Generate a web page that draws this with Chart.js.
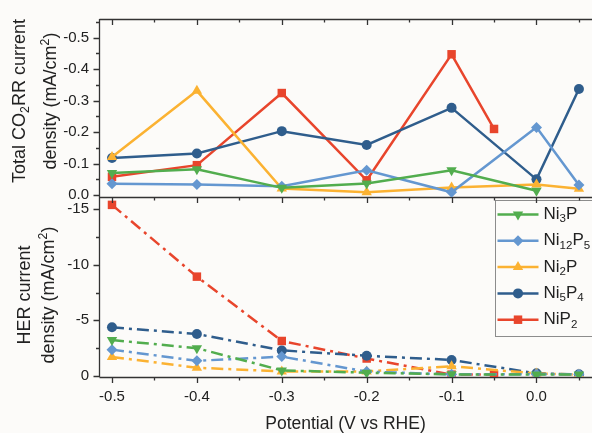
<!DOCTYPE html>
<html><head><meta charset="utf-8">
<script src="https://cdn.jsdelivr.net/npm/chart.js@4/dist/chart.umd.min.js"></script>
<style>
html,body{margin:0;padding:0;background:#fcfbf9;}
#wrap{position:relative;width:592px;height:433px;overflow:hidden;}
canvas{position:absolute;left:0;top:0;}
</style></head><body>
<div id="wrap"><canvas id="cBot" width="592" height="433"></canvas><canvas id="cTop" width="592" height="433"></canvas></div>
<script>
// ---- data ----
const seriesNames = ['Ni₃P','Ni₁₂P₅','Ni₂P','Ni₅P₄','NiP₂'];
const seriesColors = ['#52ad4e','#6497d0','#fbb232','#2f5d8c','#e8452c'];
const seriesMarkers = ['triangle','rectRot','triangle','circle','rect'];
const markerRotations = [180,0,0,0,0];
const markerRadii = [6,5.5,6,5,6];

const potentials = [-0.5,-0.4,-0.3,-0.2,-0.1,0.0,0.05];
const potentialsNiP2 = [-0.5,-0.4,-0.3,-0.2,-0.1,-0.05];

// Total CO2RR current density (mA/cm2)
const co2rrNi3P   = [-0.070,-0.082,-0.023,-0.037,-0.079,-0.014];
const co2rrNi12P5 = [-0.036,-0.034,-0.028,-0.079,-0.009,-0.215,-0.032];
const co2rrNi2P   = [-0.121,-0.331,-0.021,-0.009,-0.024,-0.034,-0.020];
const co2rrNi5P4  = [-0.118,-0.132,-0.203,-0.159,-0.277,-0.050,-0.337];
const co2rrNiP2   = [-0.058,-0.095,-0.324,-0.047,-0.447,-0.210];

// HER current density (mA/cm2)
const herNi3P   = [-3.22,-2.48,-0.48,-0.27,-0.12,-0.10,-0.10];
const herNi12P5 = [-2.35,-1.34,-1.72,-0.37,-0.12,-0.12,-0.12];
const herNi2P   = [-1.69,-0.72,-0.38,-0.38,-0.85,-0.20,-0.10];
const herNi5P4  = [-4.36,-3.76,-2.28,-1.80,-1.42,-0.21,-0.12];
const herNiP2   = [-15.4,-8.93,-3.13,-1.55,-0.10,-0.10];

// ticks and titles
const xTickValues = [-0.5,-0.45,-0.4,-0.35,-0.3,-0.25,-0.2,-0.15,-0.1,-0.05,0.0,0.05];
const xTickLabels = ['-0.5','','-0.4','','-0.3','','-0.2','','-0.1','','0.0',''];
const yTopTickValues = [0,-0.05,-0.1,-0.15,-0.2,-0.25,-0.3,-0.35,-0.4,-0.45,-0.5,-0.55];
const yTopTickLabels = ['0.0','','-0.1','','-0.2','','-0.3','','-0.4','','-0.5',''];
const yBotTickValues = [0,-2.5,-5,-7.5,-10,-12.5,-15];
const yBotTickLabels = ['0','','-5','','-10','','-15'];
const xTitle = 'Potential (V vs RHE)';
const yTopTitle = ['Total CO₂RR current','density (mA/cm²)'];
const yBotTitle = ['HER current','density (mA/cm²)'];

const FONT = "'Liberation Sans', Arial, sans-serif";
const AXIS = '#333333';
const TEXT = '#222222';

function pts(xs, ys){ return ys.map((v,i)=>({x:xs[i], y:v})); }

const co2rrSets = [co2rrNi3P, co2rrNi12P5, co2rrNi2P, co2rrNi5P4, co2rrNiP2];
const herSets = [herNi3P, herNi12P5, herNi2P, herNi5P4, herNiP2];
const xsFor = i => (i === 4 ? potentialsNiP2 : potentials);

function makeDatasets(sets, dashed){
  return sets.map((ys,i)=>({
    label: seriesNames[i],
    data: pts(xsFor(i), ys),
    borderColor: seriesColors[i],
    backgroundColor: seriesColors[i],
    borderWidth: 2.5,
    borderDash: dashed ? [12,5,3,5] : [],
    pointStyle: seriesMarkers[i],
    pointRotation: markerRotations[i],
    pointRadius: markerRadii[i],
    pointBorderWidth: 0,
    pointBackgroundColor: seriesColors[i],
    tension: 0,
    fill: false
  }));
}

function makeTicks(values){ return values.map(v=>({value:v})); }

// rich text: unicode sub/superscript digits are drawn as smaller shifted glyphs
const SUB = '₀₁₂₃₄₅₆₇₈₉', SUP = '⁰¹²³⁴⁵⁶⁷⁸⁹';
function parseRich(s){
  const segs = [];
  for (const ch of s){
    let kind = 'n', c = ch;
    const si = SUB.indexOf(ch), pi = SUP.indexOf(ch);
    if (si >= 0){ kind = 'sub'; c = String(si); }
    else if (pi >= 0){ kind = 'sup'; c = String(pi); }
    const last = segs[segs.length-1];
    if (last && last.kind === kind) last.text += c; else segs.push({kind, text:c});
  }
  return segs;
}
function richWidth(ctx, segs, size){
  let w = 0;
  segs.forEach(s=>{ ctx.font = (s.kind==='n'? size : size*0.68) + 'px ' + FONT; w += ctx.measureText(s.text).width; });
  return w;
}
function drawRich(ctx, str, x, y, size, align){
  const segs = parseRich(str);
  let cx = x;
  if (align === 'center') cx = x - richWidth(ctx, segs, size)/2;
  ctx.textAlign = 'left'; ctx.textBaseline = 'middle';
  segs.forEach(s=>{
    const fs = s.kind==='n'? size : size*0.68;
    const dy = s.kind==='sub' ? size*0.28 : (s.kind==='sup' ? -size*0.33 : 0);
    ctx.font = fs + 'px ' + FONT;
    ctx.fillText(s.text, cx, y+dy);
    cx += ctx.measureText(s.text).width;
  });
}

function framePlugin(opts){
  return {
    id:'frame'+opts.name,
    beforeDatasetsDraw(chart){
      const {ctx, chartArea:a, scales} = chart;
      const x = scales.x, y = scales.y;
      ctx.save();
      ctx.strokeStyle = AXIS; ctx.lineWidth = 1.3;
      const L = Math.round(a.left)+0.5;
      ctx.beginPath();
      if (opts.topLine){ ctx.moveTo(a.right+5, Math.round(a.top)+0.5); ctx.lineTo(L, Math.round(a.top)+0.5); }
      ctx.moveTo(L, a.top); ctx.lineTo(L, a.bottom);
      ctx.moveTo(L, Math.round(a.bottom)+0.5); ctx.lineTo(a.right+5, Math.round(a.bottom)+0.5);
      opts.xEdges.forEach(edge=>{
        const yy = edge === 'top' ? a.top : a.bottom;
        xTickValues.forEach((v,i)=>{
          const px = Math.round(x.getPixelForValue(v))+0.5;
          const len = xTickLabels[i] ? 6 : 3.5;
          ctx.moveTo(px, yy); ctx.lineTo(px, yy+len);
        });
      });
      opts.yVals.forEach((v,i)=>{
        const py = Math.round(y.getPixelForValue(v))+0.5;
        const len = opts.yLabs[i] ? 6 : 3.5;
        ctx.moveTo(L, py); ctx.lineTo(L-len, py);
      });
      ctx.stroke();
      ctx.restore();
    },
    afterDraw(chart){
      // two-line rotated y-axis title
      const {ctx, chartArea:a} = chart;
      const cy = (a.top + a.bottom)/2 + opts.titleShift;
      ctx.save();
      ctx.fillStyle = TEXT;
      opts.title.forEach((line, k)=>{
        ctx.save();
        ctx.translate(opts.titleX[k], cy);
        ctx.rotate(-Math.PI/2);
        drawRich(ctx, line, 0, 0, 18, 'center');
        ctx.restore();
      });
      ctx.restore();
    }
  };
}

function drawMarker(ctx, style, rot, r, cx, cy){
  ctx.beginPath();
  if (style === 'circle'){ ctx.arc(cx, cy, r, 0, Math.PI*2); }
  else if (style === 'rect'){ const h = r*Math.SQRT1_2; ctx.rect(cx-h, cy-h, 2*h, 2*h); }
  else if (style === 'rectRot'){ ctx.moveTo(cx, cy-r); ctx.lineTo(cx+r, cy); ctx.lineTo(cx, cy+r); ctx.lineTo(cx-r, cy); ctx.closePath(); }
  else if (style === 'triangle'){
    let ang = rot*Math.PI/180;
    for (let k=0;k<3;k++){ const px = cx + Math.sin(ang)*r, py = cy - Math.cos(ang)*r; if(k===0) ctx.moveTo(px,py); else ctx.lineTo(px,py); ang += 2*Math.PI/3; }
    ctx.closePath();
  }
  ctx.fill();
}

const legendPlugin = {
  id:'legendBox',
  afterDraw(chart){
    const {ctx, chartArea:a} = chart;
    const bx = Math.round(a.right - 97)+0.5, by = Math.round(a.top + 3)+0.5, bw = 130, bh = 136;
    ctx.save();
    ctx.fillStyle = '#fcfbf9'; ctx.fillRect(bx, by, bw, bh);
    ctx.strokeStyle = '#8c8c8c'; ctx.lineWidth = 1; ctx.strokeRect(bx, by, bw, bh);
    seriesNames.forEach((n,i)=>{
      const yy = by + 14 + i*26.3;
      ctx.strokeStyle = seriesColors[i]; ctx.lineWidth = 2.5;
      ctx.beginPath(); ctx.moveTo(bx+2, yy); ctx.lineTo(bx+43, yy); ctx.stroke();
      ctx.fillStyle = seriesColors[i];
      drawMarker(ctx, seriesMarkers[i], markerRotations[i], markerRadii[i], bx+22.5, yy);
      ctx.fillStyle = TEXT;
      drawRich(ctx, n, bx+48, yy, 17, 'left');
    });
    ctx.restore();
  }
};

const tickFont = {family: FONT, size: 15};

// ---- top chart: CO2RR ----
new Chart(document.getElementById('cTop'), {
  type:'line',
  data:{ datasets: makeDatasets(co2rrSets, false) },
  options:{
    responsive:false, animation:false, devicePixelRatio:1,
    layout:{ autoPadding:false, padding:{top:18, bottom:236, left:0, right:0} },
    plugins:{ legend:{display:false}, tooltip:{enabled:false} },
    scales:{
      x:{ type:'linear', display:false, min:-0.5153, max:0.0654 },
      y:{ type:'linear', reverse:true, min:-0.559, max:0.006,
          afterFit(s){ s.width = 99; },
          afterBuildTicks(s){ s.ticks = makeTicks(yTopTickValues); },
          grid:{display:false, drawTicks:false, tickLength:0},
          border:{display:false},
          ticks:{ font:tickFont, color:TEXT, padding:10, autoSkip:false,
                  callback:(v,i)=>yTopTickLabels[i] },
          title:{ display:false }
      }
    }
  },
  plugins:[framePlugin({name:'t', topLine:true, xEdges:['top','bottom'], yVals:yTopTickValues, yLabs:yTopTickLabels,
                        title:yTopTitle, titleX:[20.5, 51.5], titleShift:-7})]
});

// ---- bottom chart: HER ----
new Chart(document.getElementById('cBot'), {
  type:'line',
  data:{ datasets: makeDatasets(herSets, true) },
  options:{
    responsive:false, animation:false, devicePixelRatio:1,
    layout:{ autoPadding:false, padding:{top:197, bottom:0, left:0, right:0} },
    plugins:{ legend:{display:false}, tooltip:{enabled:false} },
    scales:{
      x:{ type:'linear', min:-0.5153, max:0.0654,
          afterFit(s){ s.height = 56; },
          afterBuildTicks(s){ s.ticks = makeTicks(xTickValues); },
          grid:{display:false, drawTicks:false, tickLength:0},
          border:{display:false},
          ticks:{ font:tickFont, color:TEXT, padding:11, autoSkip:false, maxRotation:0,
                  callback:(v,i)=>xTickLabels[i] },
          title:{ display:true, text:xTitle,
                  font:{family:FONT, size:17.5, lineHeight:1.0}, color:TEXT, padding:{top:0,bottom:0} }
      },
      y:{ type:'linear', reverse:true, min:-16.11, max:0.117,
          afterFit(s){ s.width = 99; },
          afterBuildTicks(s){ s.ticks = makeTicks(yBotTickValues); },
          grid:{display:false, drawTicks:false, tickLength:0},
          border:{display:false},
          ticks:{ font:tickFont, color:TEXT, padding:10, autoSkip:false,
                  callback:(v,i)=>yBotTickLabels[i] },
          title:{ display:false }
      }
    }
  },
  plugins:[framePlugin({name:'b', topLine:false, xEdges:['bottom'], yVals:yBotTickValues, yLabs:yBotTickLabels,
                        title:yBotTitle, titleX:[25, 49.5], titleShift:8}), legendPlugin]
});
</script>
</body></html>
